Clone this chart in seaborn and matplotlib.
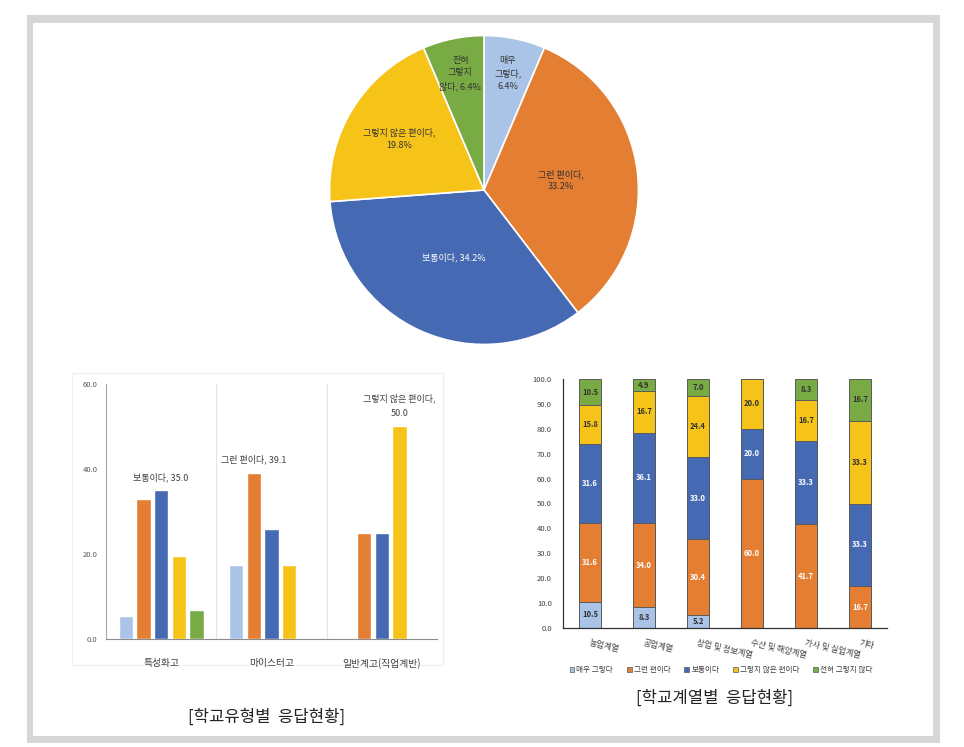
import matplotlib.pyplot as plt
import matplotlib.patches as mpatches
import seaborn as sns
import numpy as np
import pandas as pd

plt.switch_backend('Agg')

# ---- data ----
responses = ['매우 그렇다', '그런 편이다', '보통이다', '그렇지 않은 편이다', '전혀 그렇지 않다']
colors = ['#a9c4e6', '#e37e32', '#4569b2', '#f6c419', '#79ab45']

pie_values = [6.4, 33.2, 34.2, 19.8, 6.4]
pie_labels = ['매우\n그렇다,\n6.4%', '그런 편이다,\n33.2%', '보통이다, 34.2%',
              '그렇지 않은 편이다,\n19.8%', '전혀\n그렇지\n않다, 6.4%']

school_types = ['특성화고', '마이스터고', '일반계고(직업계반)']
type_very_yes = [5.4, 17.3, 0.0]
type_yes = [32.9, 39.1, 25.0]
type_neutral = [35.0, 26.0, 25.0]
type_no = [19.5, 17.3, 50.0]
type_never = [6.8, 0.0, 0.0]

fields = ['농업계열', '공업계열', '상업 및 정보계열', '수산 및 해양계열', '가사 및 실업계열', '기타']
field_very_yes = [10.5, 8.3, 5.2, 0.0, 0.0, 0.0]
field_yes = [31.6, 34.0, 30.4, 60.0, 41.7, 16.7]
field_neutral = [31.6, 36.1, 33.0, 20.0, 33.3, 33.3]
field_no = [15.8, 16.7, 24.4, 20.0, 16.7, 33.3]
field_never = [10.5, 4.9, 7.0, 0.0, 8.3, 16.7]

sns.set_theme(style='white')
plt.rcParams['font.family'] = ['Noto Sans CJK KR', 'DejaVu Sans']

W, H = 964, 747
fig = plt.figure(figsize=(W / 100, H / 100), dpi=100)


def fx(px):
    return px / W


def fy(py):
    return 1 - py / H


# frame
fig.patches.append(mpatches.Rectangle((fx(27), fy(743)), fx(940) - fx(27), fy(15) - fy(743),
                                      transform=fig.transFigure, facecolor='#d6d6d6',
                                      edgecolor='none', zorder=-2))
fig.patches.append(mpatches.Rectangle((fx(33), fy(736)), fx(933) - fx(33), fy(23) - fy(736),
                                      transform=fig.transFigure, facecolor='white',
                                      edgecolor='none', zorder=-1))
# faint border around left chart
fig.patches.append(mpatches.Rectangle((fx(72), fy(665)), fx(443) - fx(72), fy(373) - fy(665),
                                      transform=fig.transFigure, facecolor='none',
                                      edgecolor='#f0f0f0', lw=1, zorder=-0.5))

# ---- pie ----
ax0 = fig.add_axes([fx(328), fy(346), fx(640) - fx(328), fy(34) - fy(346)])
wedges, _ = ax0.pie(pie_values, colors=colors, startangle=90, counterclock=False,
                    wedgeprops=dict(edgecolor='white', linewidth=1.2))
ax0.set_aspect('equal')
ax0.set_xlim(-1.01, 1.01)
ax0.set_ylim(-1.01, 1.01)
dists = [0.77, 0.5, 0.48, 0.64, 0.77]
for w, lab, d, i in zip(wedges, pie_labels, dists, range(5)):
    ang = np.deg2rad((w.theta1 + w.theta2) / 2)
    ax0.text(d * np.cos(ang), d * np.sin(ang), lab, ha='center', va='center',
             fontsize=6.5, color='white' if i == 2 else '#333333', linespacing=1.5)

# ---- grouped bars by school type ----
df1 = pd.DataFrame({
    'type': school_types * 5,
    'response': [r for r in responses for _ in school_types],
    'value': type_very_yes + type_yes + type_neutral + type_no + type_never,
})
ax1 = fig.add_axes([fx(106), fy(639), fx(437) - fx(106), fy(384) - fy(639)])
sns.barplot(data=df1, x='type', y='value', hue='response', hue_order=responses,
            palette=colors, width=0.8, gap=0.2, ax=ax1, legend=False, zorder=3,
            saturation=1)
ax1.set_xlim(-0.5, 2.5)
ax1.set_ylim(0, 60)
ax1.set_yticks([0, 20, 40, 60])
ax1.set_yticklabels(['0.0', '20.0', '40.0', '60.0'])
ax1.tick_params(axis='y', labelsize=5.5, labelcolor='#595959', pad=6, length=0)
ax1.tick_params(axis='x', labelsize=7, labelcolor='#404040', pad=14, length=0)
ax1.set_xlabel('')
ax1.set_ylabel('')
for xv in [0.5, 1.5]:
    ax1.axvline(xv, color='#e4e4e4', lw=0.8, zorder=1)
for s in ['top', 'right']:
    ax1.spines[s].set_visible(False)
ax1.spines['left'].set_color('#a6a6a6')
ax1.spines['bottom'].set_color('#8c8c8c')
ax1.spines['left'].set_linewidth(0.8)
ax1.spines['bottom'].set_linewidth(0.8)

callouts = [(2, 0, '보통이다, 35.0'), (1, 1, '그런 편이다, 39.1'), (3, 2, '그렇지 않은 편이다,\n50.0')]
for hi, ci, txt in callouts:
    bar = ax1.containers[hi][ci]
    ax1.annotate(txt, (bar.get_x() + bar.get_width() / 2, bar.get_height()),
                 xytext=(0, 6), textcoords='offset points', ha='center', va='bottom',
                 fontsize=6.5, color='#404040', linespacing=1.8)

# ---- stacked bars by field ----
df2 = pd.DataFrame({'field': fields, 'r0': field_very_yes, 'r1': field_yes,
                    'r2': field_neutral, 'r3': field_no, 'r4': field_never})
cols = ['r0', 'r1', 'r2', 'r3', 'r4']
cum = df2[cols].cumsum(axis=1)
ax2 = fig.add_axes([fx(563), fy(628), fx(887) - fx(563), fy(379) - fy(628)])
for k in range(4, -1, -1):
    sns.barplot(x=df2['field'], y=cum[cols[k]], color=colors[k], width=0.4,
                edgecolor='#5a5a5a', linewidth=0.7, ax=ax2, label=responses[k],
                saturation=1)
for i in range(len(fields)):
    for k in range(5):
        v = df2[cols[k]].iloc[i]
        if v <= 0:
            continue
        yc = cum[cols[k]].iloc[i] - v / 2
        ax2.text(i, yc, f'{v:.1f}', ha='center', va='center', fontsize=5.5,
                 fontweight='bold', color='white' if k in (1, 2) else '#333333')
ax2.set_xlim(-0.5, 5.5)
ax2.set_ylim(0, 100)
ax2.set_yticks(np.arange(0, 101, 10))
ax2.set_yticklabels([f'{v:.1f}' for v in np.arange(0, 101, 10)])
ax2.tick_params(axis='y', labelsize=5.5, labelcolor='#404040', pad=8, length=0)
ax2.set_xticks(range(len(fields)))
ax2.set_xticklabels(fields, rotation=-13, ha='left', rotation_mode='anchor',
                    fontsize=6, color='#404040')
ax2.tick_params(axis='x', pad=7, length=0)
ax2.set_xlabel('')
ax2.set_ylabel('')
for s in ['top', 'right']:
    ax2.spines[s].set_visible(False)
ax2.spines['left'].set_color('#333333')
ax2.spines['bottom'].set_color('#333333')
ax2.spines['left'].set_linewidth(0.9)
ax2.spines['bottom'].set_linewidth(0.9)
ax2.legend().remove()
handles = [mpatches.Patch(facecolor=c, edgecolor='#5a5a5a', lw=0.5) for c in colors]
fig.legend(handles, responses, loc='center', bbox_to_anchor=(fx(721), fy(670)), ncol=5,
           frameon=False, fontsize=5.5, handlelength=0.6, handleheight=0.6,
           handletextpad=0.3, columnspacing=1.8, labelcolor='#404040')

# captions
fig.text(fx(267), fy(717), '[학교유형별  응답현황]', ha='center', va='center',
         fontsize=12, color='#222222', fontweight='light')
fig.text(fx(715), fy(698), '[학교계열별  응답현황]', ha='center', va='center',
         fontsize=12, color='#222222', fontweight='light')

fig.savefig('out.png', dpi=100)
